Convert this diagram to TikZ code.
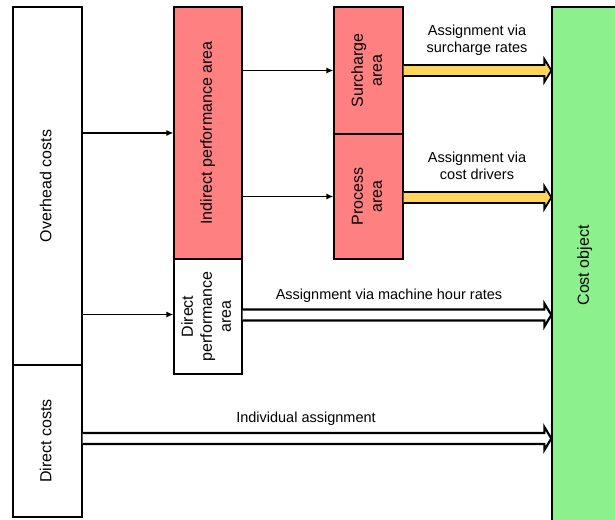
\documentclass[tikz,border=0pt]{standalone}
\usepackage{fontspec}
\setmainfont{Liberation Sans}
\usepackage{graphicx}
\usetikzlibrary{arrows.meta,calc}
\definecolor{boxred}{RGB}{255,128,128}
\definecolor{boxgreen}{RGB}{140,240,140}
\definecolor{arrowyellow}{RGB}{255,214,90}
\newcommand\vtext[1]{\rotatebox{90}{\begin{tabular}{@{}c@{}}#1\end{tabular}}}
\newcommand\fatarrow[3]{%
  \draw[#1] let \p1=(#2), \p2=(#3) in
    (\x1,\y1+5.5pt) -- (\x2-7pt,\y1+5.5pt) -- (\x2-7pt,\y1+11.5pt) -- (\x2,\y1)
    -- (\x2-7pt,\y1-11.5pt) -- (\x2-7pt,\y1-5.5pt) -- (\x1,\y1-5.5pt);}
\begin{document}
\begin{tikzpicture}[x=1pt,y=-1pt,
  box/.style={draw=black, line width=1.3pt, inner sep=0pt, font=\fontsize{16}{19}\selectfont},
  lbl/.style={font=\fontsize{14.5}{17}\selectfont, align=center, inner sep=0pt},
  thinarrow/.style={draw=black, line width=1.2pt, -{Latex[length=7pt,width=6pt]}},
  yellowarrow/.style={draw=black, fill=arrowyellow, line width=1.8pt, line join=miter},
  whitearrow/.style={draw=black, fill=white, line width=2.2pt, line join=miter}]
\useasboundingbox (0,0) rectangle (615,519);
% boxes
\node[box, fill=boxgreen, minimum width=66, minimum height=517] (co) at (585,265.5) {\vtext{Cost object}};
\node[box, minimum width=69, minimum height=358] (oh) at (47.5,186) {\vtext{Overhead costs}};
\node[box, minimum width=69, minimum height=152] (dc) at (47.5,441) {\vtext{Direct costs}};
\node[box, fill=boxred, minimum width=68, minimum height=252] (ipa) at (208,133) {\vtext{Indirect performance area}};
\node[box, fill=white, minimum width=68, minimum height=115] (dpa) at (208,316.5) {\vtext{Direct\\performance\\area}};
\node[box, fill=boxred, minimum width=69, minimum height=127] (sa) at (368.5,70.5) {\vtext{Surcharge\\area}};
\node[box, fill=boxred, minimum width=69, minimum height=125] (pa) at (368.5,196.5) {\vtext{Process\\area}};
% thin arrows
\draw[thinarrow] (oh.east |- ipa.west) -- (ipa.west);
\draw[thinarrow] (ipa.east |- sa.west) -- (sa.west);
\draw[thinarrow] (ipa.east |- pa.west) -- (pa.west);
\draw[thinarrow] (oh.east |- 0,314.5) -- (dpa.west |- 0,314.5);
% fat arrows
\fatarrow{yellowarrow}{sa.east}{co.west}
\fatarrow{yellowarrow}{$(pa.east)+(0,1)$}{co.west}
\fatarrow{whitearrow}{dpa.east |- 0,315}{co.west}
\fatarrow{whitearrow}{dc.east |- 0,438.5}{co.west}
% labels
\node[lbl] (l1) at (477,40) {Assignment via\\surcharge rates};
\node[lbl] (l2) at (477,166) {Assignment via\\cost drivers};
\node[lbl] (l3) at (389,296) {Assignment via machine hour rates};
\node[lbl] (l4) at (306,419) {Individual assignment};
\end{tikzpicture}
\end{document}
